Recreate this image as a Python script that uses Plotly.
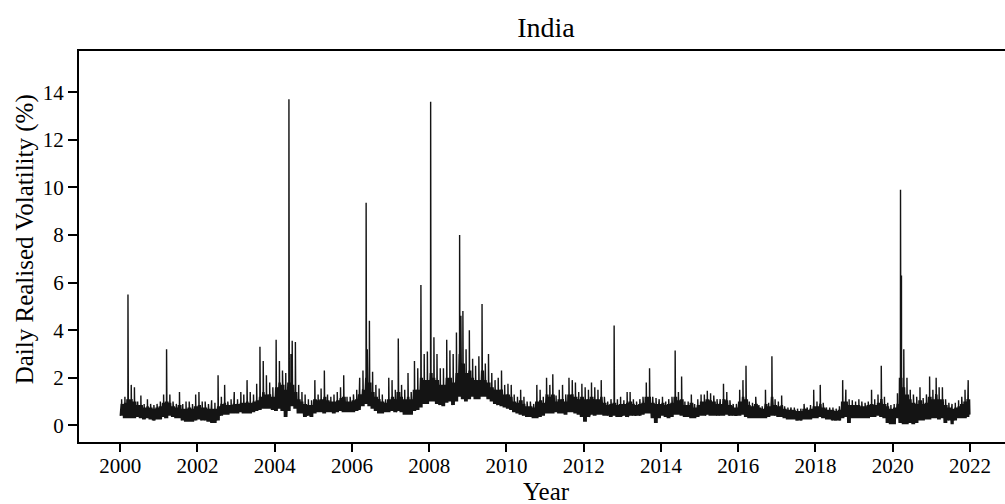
import pandas as pd
import plotly.graph_objects as go

# Daily realised volatility (%), summarised per month, Jan 2000 .. Dec 2021:
#   vol_low  - bottom of the daily band
#   vol_top  - usual top of the daily band
#   vol_high - largest single-day value of the month
years = list(range(2000, 2022))

vol_low = [
    0.40, 0.30, 0.30, 0.30, 0.30, 0.35, 0.30, 0.25, 0.30, 0.25, 0.20, 0.25,  # 2000
    0.25, 0.35, 0.30, 0.40, 0.35, 0.30, 0.30, 0.20, 0.15, 0.15, 0.15, 0.20,  # 2001
    0.25, 0.20, 0.20, 0.15, 0.10, 0.10, 0.20, 0.40, 0.45, 0.45, 0.50, 0.50,  # 2002
    0.50, 0.55, 0.50, 0.50, 0.50, 0.55, 0.60, 0.65, 0.70, 0.70, 0.70, 0.65,  # 2003
    0.60, 0.70, 0.60, 0.35, 0.60, 0.80, 0.70, 0.50, 0.50, 0.35, 0.40, 0.35,  # 2004
    0.50, 0.55, 0.55, 0.50, 0.55, 0.55, 0.50, 0.55, 0.60, 0.55, 0.55, 0.55,  # 2005
    0.55, 0.60, 0.65, 0.80, 0.90, 0.80, 0.70, 0.60, 0.50, 0.50, 0.55, 0.55,  # 2006
    0.60, 0.55, 0.60, 0.55, 0.45, 0.45, 0.45, 0.60, 0.65, 0.75, 0.90, 0.90,  # 2007
    1.00, 1.00, 0.90, 0.85, 0.80, 0.95, 1.00, 0.85, 1.00, 1.20, 1.10, 1.00,  # 2008
    1.10, 1.20, 1.10, 1.10, 1.20, 1.20, 1.10, 1.00, 0.90, 0.85, 0.80, 0.75,  # 2009
    0.70, 0.65, 0.55, 0.50, 0.45, 0.40, 0.35, 0.35, 0.30, 0.30, 0.35, 0.40,  # 2010
    0.50, 0.50, 0.50, 0.55, 0.50, 0.50, 0.45, 0.55, 0.55, 0.50, 0.45, 0.35,  # 2011
    0.15, 0.35, 0.45, 0.40, 0.45, 0.45, 0.40, 0.40, 0.35, 0.40, 0.35, 0.35,  # 2012
    0.40, 0.35, 0.40, 0.40, 0.40, 0.40, 0.45, 0.50, 0.50, 0.30, 0.10, 0.30,  # 2013
    0.40, 0.35, 0.30, 0.35, 0.45, 0.45, 0.40, 0.35, 0.35, 0.30, 0.30, 0.35,  # 2014
    0.40, 0.40, 0.45, 0.40, 0.40, 0.40, 0.40, 0.40, 0.45, 0.40, 0.40, 0.40,  # 2015
    0.40, 0.45, 0.35, 0.30, 0.30, 0.30, 0.30, 0.30, 0.30, 0.35, 0.40, 0.40,  # 2016
    0.35, 0.35, 0.30, 0.25, 0.25, 0.25, 0.20, 0.20, 0.25, 0.25, 0.25, 0.30,  # 2017
    0.30, 0.35, 0.30, 0.25, 0.25, 0.20, 0.20, 0.20, 0.30, 0.35, 0.10, 0.30,  # 2018
    0.30, 0.30, 0.30, 0.30, 0.30, 0.35, 0.35, 0.40, 0.35, 0.30, 0.10, 0.05,  # 2019
    0.05, 0.30, 0.10, 0.05, 0.05, 0.10, 0.05, 0.10, 0.20, 0.20, 0.25, 0.25,  # 2020
    0.30, 0.30, 0.25, 0.30, 0.10, 0.20, 0.05, 0.20, 0.30, 0.30, 0.30, 0.35,  # 2021
]

vol_top = [
    0.90, 0.95, 1.10, 1.10, 1.00, 0.85, 0.85, 0.75, 0.80, 0.75, 0.70, 0.75,  # 2000
    0.80, 0.95, 1.00, 0.95, 0.80, 0.75, 0.85, 0.70, 0.70, 0.75, 0.70, 0.80,  # 2001
    0.85, 0.75, 0.75, 0.70, 0.70, 0.70, 0.80, 0.90, 0.95, 0.85, 0.85, 0.90,  # 2002
    0.90, 0.95, 0.95, 1.00, 0.95, 1.00, 1.05, 1.20, 1.40, 1.30, 1.30, 1.20,  # 2003
    1.60, 1.80, 1.70, 1.50, 1.80, 1.70, 1.40, 1.10, 1.00, 0.90, 0.85, 0.85,  # 2004
    1.10, 1.05, 1.10, 1.20, 1.05, 1.00, 1.00, 1.05, 1.15, 1.20, 1.00, 1.00,  # 2005
    1.05, 1.10, 1.30, 1.50, 2.00, 1.80, 1.40, 1.20, 1.10, 1.00, 0.95, 1.10,  # 2006
    1.20, 1.10, 1.40, 1.20, 1.10, 1.20, 1.10, 1.50, 1.50, 2.00, 1.90, 1.90,  # 2007
    2.20, 2.00, 1.90, 1.70, 1.70, 2.00, 2.00, 1.80, 2.20, 3.00, 2.60, 2.20,  # 2008
    2.30, 2.00, 1.90, 1.90, 2.30, 1.90, 1.80, 1.60, 1.50, 1.50, 1.50, 1.30,  # 2009
    1.30, 1.20, 1.00, 0.95, 1.05, 0.90, 0.80, 0.80, 0.75, 1.00, 1.05, 0.95,  # 2010
    1.30, 1.20, 1.30, 1.00, 1.10, 1.10, 1.00, 1.30, 1.30, 1.20, 1.10, 1.20,  # 2011
    1.10, 1.10, 1.20, 1.10, 1.10, 1.20, 0.95, 0.85, 0.90, 0.95, 0.85, 0.90,  # 2012
    0.90, 0.95, 1.00, 0.90, 0.85, 0.90, 0.95, 1.20, 1.20, 0.95, 0.90, 0.90,  # 2013
    0.95, 0.85, 0.90, 0.95, 1.20, 1.05, 1.10, 0.85, 0.85, 0.95, 0.75, 0.85,  # 2014
    1.00, 1.00, 1.10, 1.05, 1.00, 0.90, 0.90, 1.10, 1.05, 0.85, 0.75, 0.75,  # 2015
    1.00, 1.20, 1.10, 0.85, 0.80, 0.90, 0.75, 0.70, 0.90, 0.80, 1.20, 0.85,  # 2016
    0.80, 0.85, 0.70, 0.65, 0.65, 0.65, 0.60, 0.60, 0.70, 0.65, 0.70, 0.80,  # 2017
    0.80, 0.90, 0.75, 0.65, 0.65, 0.65, 0.60, 0.65, 1.00, 1.00, 0.85, 0.85,  # 2018
    0.85, 0.85, 0.80, 0.80, 0.85, 0.90, 0.85, 0.95, 1.10, 0.90, 0.80, 0.70,  # 2019
    0.75, 0.90, 2.00, 1.60, 1.30, 1.10, 0.95, 0.90, 1.05, 0.90, 0.95, 1.20,  # 2020
    1.10, 1.30, 1.10, 1.10, 0.85, 0.75, 0.70, 0.75, 0.80, 0.90, 1.00, 1.10,  # 2021
]

vol_high = [
    1.10, 1.20, 5.50, 1.70, 1.60, 1.00, 1.25, 0.90, 1.10, 0.90, 0.85, 0.90,  # 2000
    1.00, 1.30, 3.20, 1.30, 1.00, 0.90, 1.40, 0.90, 1.00, 1.00, 0.90, 1.30,  # 2001
    1.40, 1.00, 1.00, 0.90, 1.05, 0.95, 2.10, 1.20, 1.70, 1.00, 1.10, 1.40,  # 2002
    1.10, 1.40, 1.30, 1.90, 1.40, 1.30, 1.75, 3.30, 2.70, 2.10, 1.80, 1.60,  # 2003
    3.60, 2.70, 2.30, 2.20, 13.70, 3.55, 3.50, 1.70, 1.40, 1.30, 1.10, 1.05,  # 2004
    1.90, 1.30, 1.55, 2.30, 1.30, 1.20, 1.30, 1.40, 1.60, 2.10, 1.20, 1.20,  # 2005
    1.30, 1.50, 2.00, 2.30, 9.35, 4.40, 2.25, 1.70, 1.55, 1.30, 1.10, 2.00,  # 2006
    1.90, 1.50, 3.65, 1.70, 1.50, 2.20, 1.40, 2.70, 2.40, 5.90, 3.00, 3.10,  # 2007
    13.60, 3.70, 3.00, 2.40, 2.40, 3.60, 3.15, 3.00, 3.90, 8.00, 4.80, 3.20,  # 2008
    4.00, 2.80, 2.50, 2.90, 5.10, 2.60, 3.00, 2.20, 1.90, 2.00, 2.30, 1.70,  # 2009
    1.75, 1.70, 1.30, 1.20, 1.50, 1.20, 1.00, 1.00, 0.90, 1.70, 1.50, 1.20,  # 2010
    2.00, 1.70, 2.15, 1.25, 1.50, 1.70, 1.30, 2.00, 1.90, 1.80, 1.40, 1.75,  # 2011
    1.60, 1.50, 1.80, 1.60, 1.50, 1.90, 1.20, 1.00, 1.10, 4.20, 1.10, 1.20,  # 2012
    1.05, 1.40, 1.40, 1.10, 1.00, 1.10, 1.20, 1.80, 2.40, 1.20, 1.15, 1.10,  # 2013
    1.20, 1.00, 1.10, 1.20, 3.15, 1.40, 2.05, 1.00, 1.00, 1.30, 0.90, 1.10,  # 2014
    1.30, 1.30, 1.45, 1.35, 1.25, 1.10, 1.10, 1.75, 1.40, 1.05, 0.90, 0.90,  # 2015
    1.50, 1.90, 2.50, 1.00, 0.95, 1.20, 0.85, 0.80, 1.50, 0.95, 2.90, 1.10,  # 2016
    1.00, 1.25, 0.80, 0.75, 0.75, 0.75, 0.70, 0.70, 0.90, 0.75, 0.85, 1.50,  # 2017
    1.00, 1.70, 0.95, 0.75, 0.75, 0.75, 0.70, 0.80, 1.90, 1.50, 1.10, 1.05,  # 2018
    1.00, 1.10, 1.00, 0.95, 1.00, 1.50, 1.10, 1.30, 2.50, 1.20, 0.95, 0.85,  # 2019
    0.90, 1.35, 9.90, 3.20, 2.00, 1.50, 1.30, 1.20, 1.60, 1.15, 1.30, 2.05,  # 2020
    1.50, 2.00, 1.60, 1.60, 1.10, 0.95, 0.90, 0.95, 1.05, 1.20, 1.50, 1.90,  # 2021
]

# Further single-day peaks inside a month
extra_dates = ["2020-03-24", "2008-10-27", "2006-05-26", "2004-06-03"]
extra_values = [6.30, 4.60, 3.20, 3.00]

final_date = "2021-12-31"
final_value = 0.45

tick_years = list(range(2000, 2023, 2))

# Trading days sampled in each month: the band alternates between its bottom
# and its usual top, and the month's largest day sits on the 15th.
band_days = [2, 5, 8, 11, 14, 16, 19, 22, 25, 28]
peak_day = 15

dates, values = [], []
i = 0
for y in years:
    for m in range(1, 13):
        for k, d in enumerate(band_days):
            dates.append(pd.Timestamp(y, m, d))
            values.append(vol_low[i] if k % 2 == 0 else vol_top[i])
        dates.append(pd.Timestamp(y, m, peak_day))
        values.append(vol_high[i])
        i += 1
for d, v in zip(extra_dates, extra_values):
    dates.append(pd.Timestamp(d))
    values.append(v)
dates.append(pd.Timestamp(final_date))
values.append(final_value)

series = pd.Series(values, index=dates).sort_index()

FONT = "Liberation Serif"

fig = go.Figure()
fig.add_trace(go.Scatter(
    x=series.index, y=series.values, mode="lines",
    line=dict(color="#141414", width=1.4),
    showlegend=False, hoverinfo="skip",
))

fig.update_layout(
    width=1005, height=504,
    margin=dict(l=79, r=0, t=51, b=62),
    paper_bgcolor="white", plot_bgcolor="white",
    font=dict(family=FONT, color="black"),
    title=dict(text="India", font=dict(family=FONT, size=28, color="black"),
               x=546 / 1005, xref="container", xanchor="center",
               y=1 - 27 / 504, yref="container", yanchor="middle"),
    annotations=[
        dict(text="Year", xref="paper", yref="paper",
             x=(546 - 79) / 926, y=(441.7 - 491) / 391,
             xanchor="center", yanchor="middle", showarrow=False,
             font=dict(family=FONT, size=25, color="black")),
        dict(text="Daily Realised Volatility (%)", xref="paper", yref="paper",
             x=(25 - 79) / 926, y=(441.7 - 239) / 391, textangle=-90,
             xanchor="center", yanchor="middle", showarrow=False,
             font=dict(family=FONT, size=25, color="black")),
    ],
)

fig.update_xaxes(
    type="date",
    range=["1998-12-08", "2022-11-28"],
    tickvals=[pd.Timestamp(y, 1, 1) for y in tick_years],
    ticktext=[str(y) for y in tick_years],
    ticks="outside", ticklen=8, tickwidth=1.5, tickcolor="black",
    ticklabelstandoff=-4,
    showline=True, linewidth=2, linecolor="black", mirror=True,
    showgrid=False, zeroline=False,
    tickfont=dict(family=FONT, size=21, color="black"),
)
fig.update_yaxes(
    range=[-0.70, 15.73],
    tickvals=list(range(0, 15, 2)),
    ticks="outside", ticklen=9, tickwidth=1.5, tickcolor="black",
    showline=True, linewidth=2, linecolor="black", mirror=False,
    showgrid=False, zeroline=False,
    tickfont=dict(family=FONT, size=21, color="black"),
)

fig.write_html("out.html")
